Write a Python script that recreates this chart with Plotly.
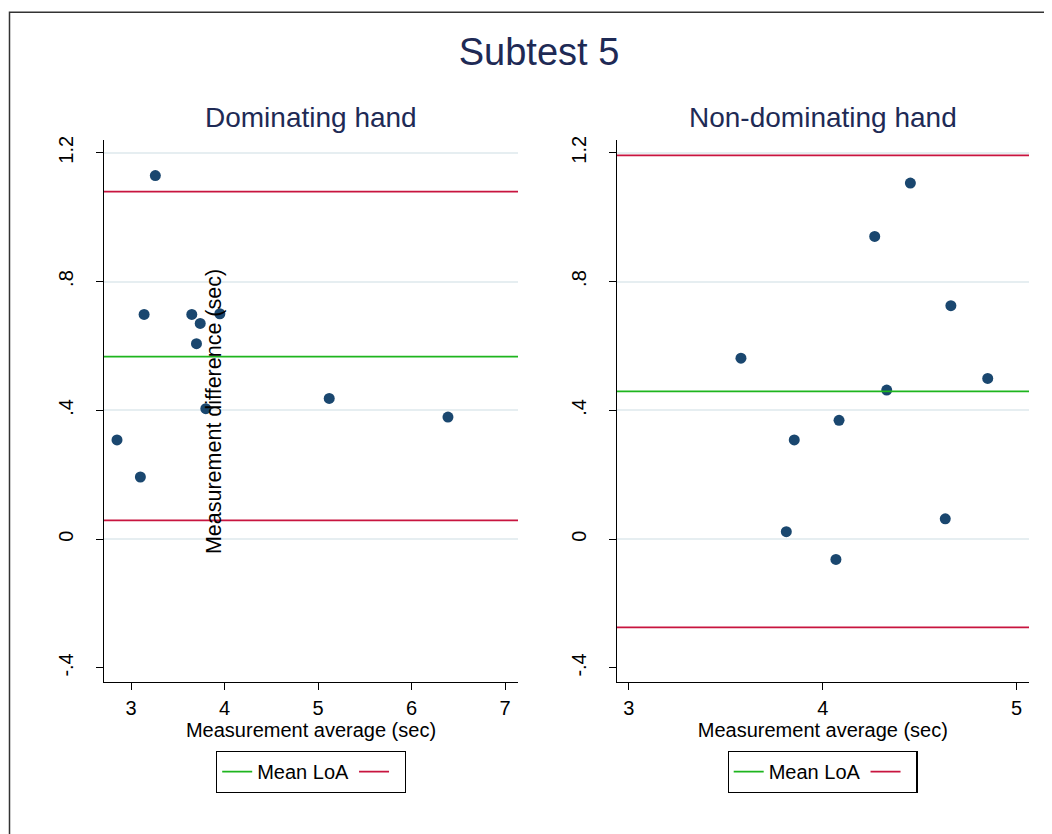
import plotly.graph_objects as go

W, H = 1052, 834

# ---------------- data ----------------
avg_dom = [2.85, 3.10, 3.14, 3.26, 3.65, 3.70, 3.74, 3.80, 3.95, 5.12, 6.39]
diff_dom = [0.308, 0.193, 0.698, 1.129, 0.698, 0.607, 0.670, 0.405, 0.700, 0.437, 0.379]
mean_dom = 0.567
loa_dom = [0.058, 1.079]

avg_non = [3.578, 3.812, 3.853, 4.068, 4.084, 4.268, 4.330, 4.452, 4.632, 4.661, 4.851]
diff_non = [0.562, 0.023, 0.308, -0.063, 0.369, 0.940, 0.463, 1.106, 0.063, 0.725, 0.499]
mean_non = 0.459
loa_non = [-0.274, 1.192]

xticks_dom = [3, 4, 5, 6, 7]
xticks_non = [3, 4, 5]
yticks = [-0.4, 0, 0.4, 0.8, 1.2]
ytick_labels = ["-.4", "0", ".4", ".8", "1.2"]
grid_vals = [0, 0.4, 0.8, 1.2]

main_title = "Subtest 5"
panel_titles = ["Dominating hand", "Non-dominating hand"]
xtitle = "Measurement average (sec)"
ytitle = "Measurement difference (sec)"
legend_mean = "Mean LoA"

# ---------------- styling ----------------
FONT = "Liberation Sans, Arial, Helvetica, sans-serif"
NAVY = "#1A476F"
TITLE_COL = "#1E2A55"
GREEN = "#1EB51E"
RED = "#C8143F"
GRID = "#E6EEF1"

xr_dom = [2.711, 7.139]
xr_non = [2.937, 5.064]
yr = [-0.443, 1.24]

OFF = 8  # page body margin


def px(x):
    return (x - OFF) / W


def py(y):
    return 1 - (y - OFF) / H


dom_x = [px(104), px(518)]
non_x = [px(616.7), px(1029)]
ydom = [py(681), py(136.5)]

fig = go.Figure()


def add_panel(xa, ya, avg, diff, mean, loa, xr, legend):
    fig.add_trace(go.Scatter(
        x=avg, y=diff, mode="markers", xaxis=xa, yaxis=ya,
        marker=dict(color=NAVY, size=11, line=dict(width=0)),
        showlegend=False, hoverinfo="x+y"))
    fig.add_trace(go.Scatter(
        x=[xr[0], xr[1]], y=[mean, mean], mode="lines", xaxis=xa, yaxis=ya,
        line=dict(color=GREEN, width=1.8), name=legend_mean, legend=legend,
        showlegend=True))
    fig.add_trace(go.Scatter(
        x=[xr[0], xr[1], None, xr[0], xr[1]],
        y=[loa[0], loa[0], None, loa[1], loa[1]], mode="lines",
        xaxis=xa, yaxis=ya, line=dict(color=RED, width=1.8), name=" ",
        legend=legend, showlegend=True))


add_panel("x", "y", avg_dom, diff_dom, mean_dom, loa_dom, xr_dom, "legend")
add_panel("x2", "y2", avg_non, diff_non, mean_non, loa_non, xr_non, "legend2")

axis_common = dict(
    showline=True, linecolor="black", linewidth=1.2,
    ticks="outside", ticklen=7, tickwidth=1.2, tickcolor="black",
    tickfont=dict(family=FONT, size=20, color="black"),
    showgrid=False, zeroline=False, fixedrange=True,
)

xaxis_common = dict(axis_common, ticklabelstandoff=1,
                    title=dict(text=xtitle, standoff=2,
                               font=dict(family=FONT, size=20, color="black")))

yaxis_common = dict(axis_common, range=yr, tickvals=yticks, ticktext=ytick_labels,
                    tickangle=-90, ticklabelstandoff=15,
                    minor=dict(tickvals=grid_vals, showgrid=True, gridcolor=GRID,
                               gridwidth=1.5, ticks=""))

legend_common = dict(
    orientation="h", xanchor="center", yanchor="middle",
    bordercolor="black", borderwidth=1.2, bgcolor="white",
    font=dict(family=FONT, size=20, color="black"),
    itemwidth=30, tracegroupgap=0,
)

fig.update_layout(
    width=W, height=H, autosize=False,
    margin=dict(l=0, r=0, t=0, b=0),
    paper_bgcolor="white", plot_bgcolor="white",
    font=dict(family=FONT, color="black"),
    title=dict(text=main_title, x=px(539), xanchor="center", y=py(52), yanchor="middle",
               font=dict(family=FONT, size=38, color=TITLE_COL)),
    xaxis=dict(xaxis_common, domain=dom_x, range=xr_dom, tickvals=xticks_dom, anchor="y"),
    yaxis=dict(yaxis_common, domain=ydom, anchor="x"),
    xaxis2=dict(xaxis_common, domain=non_x, range=xr_non, tickvals=xticks_non, anchor="y2"),
    yaxis2=dict(yaxis_common, domain=ydom, anchor="x2"),
    legend=dict(legend_common, x=px(311), y=py(771.5)),
    legend2=dict(legend_common, x=px(822.5), y=py(771.5)),
    showlegend=True,
)

# panel titles
for txt, dom in zip(panel_titles, [dom_x, non_x]):
    fig.add_annotation(text=txt, x=(dom[0] + dom[1]) / 2, y=py(114), xref="paper", yref="paper",
                       xanchor="center", yanchor="middle", showarrow=False,
                       font=dict(family=FONT, size=28, color=TITLE_COL))

# y-axis title (placed inside the left panel as in the original)
fig.add_annotation(text=ytitle, x=px(214), y=py(410), xref="paper", yref="paper",
                   xanchor="center", yanchor="middle", textangle=-90, showarrow=False,
                   font=dict(family=FONT, size=21.5, color="black"))

# outer frame
fig.add_shape(type="rect", xref="paper", yref="paper",
              x0=px(9.5), x1=1.2, y0=-0.2, y1=py(8.3),
              line=dict(color="#333333", width=1.5), fillcolor="rgba(0,0,0,0)")

fig.write_html("out.html")
